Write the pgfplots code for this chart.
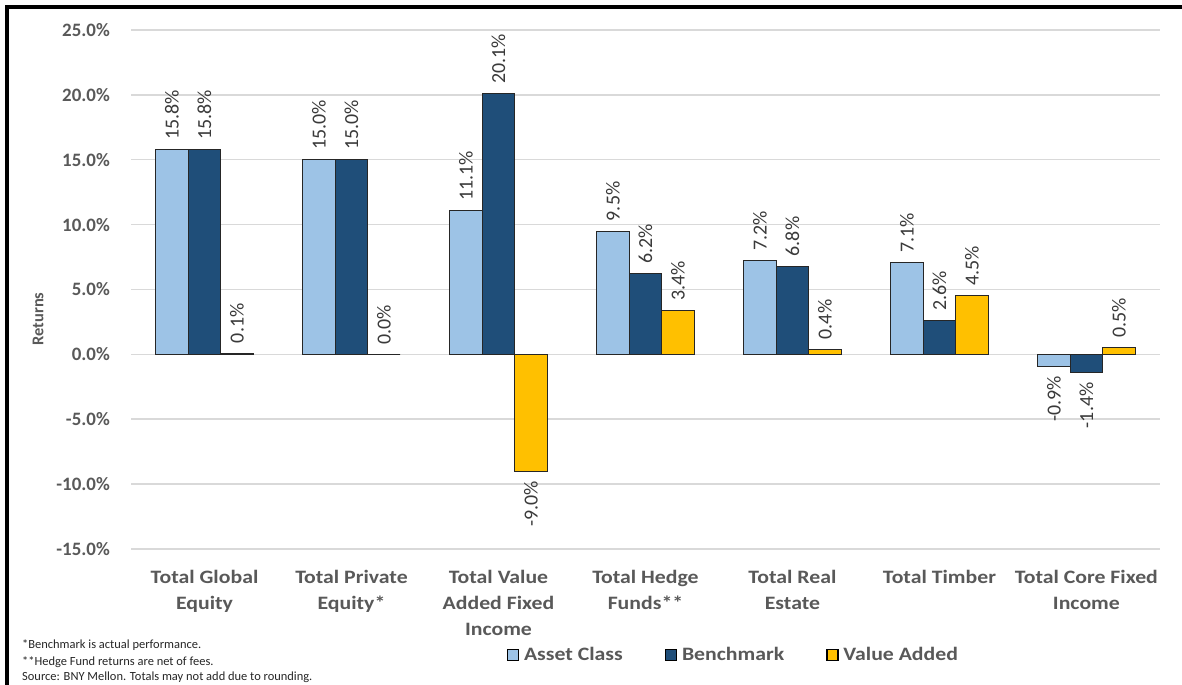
\documentclass[border=0pt]{standalone}
\usepackage{fontspec}
\setmainfont{Carlito}
\newfontfamily\widefont{Carlito}[FakeStretch=1.15]
\usepackage{pgfplots}
\usepackage{pgfplotstable}
\pgfplotsset{compat=1.18}
\definecolor{assetc}{HTML}{9DC3E6}
\definecolor{benchc}{HTML}{1F4E79}
\definecolor{valuec}{HTML}{FFC000}
\definecolor{txtgray}{HTML}{595959}
\definecolor{lblgray}{HTML}{3A3A3A}
\definecolor{gridc}{HTML}{D9D9D9}

\pgfplotstableread{
x asset bench value
0 15.8 15.8 0.1
1 15.0 15.0 0.0
2 11.1 20.1 -9.0
3 9.5 6.2 3.4
4 7.2 6.8 0.4
5 7.1 2.6 4.5
6 -0.9 -1.4 0.5
}\datatable

\newcommand{\barnum}{\pgfmathprintnumber[fixed,fixed zerofill,precision=1,assume math mode=true]{\pgfplotspointmeta}\%}
\newcommand{\barlabel}{%
  \pgfmathfloatparsenumber{\pgfplotspointmeta}%
  \pgfmathfloatifflags{\pgfmathresult}{2}%
    {\makebox[0pt][r]{\barnum\hspace{10bp}}}%
    {\makebox[0pt][l]{\hspace{10bp}\barnum}}}

\begin{document}
\begin{tikzpicture}
\useasboundingbox (0,0) rectangle (1182bp,685bp);
\fill[white] (0,0) rectangle (1182bp,685bp);
\begin{axis}[
  at={(131bp,136bp)}, anchor=south west,
  scale only axis, width=1029bp, height=519bp,
  ybar=0pt, bar width=32.5bp,
  xmin=-0.5, xmax=6.5,
  ymin=-15, ymax=25,
  ytick={-15,-10,...,25},
  xtick={0,...,6},
  xticklabels={{Total Global\\Equity},{Total Private\\Equity*},{Total Value\\Added Fixed\\Income},{Total Hedge\\Funds**},{Total Real\\Estate},{Total Timber},{Total Core Fixed\\Income}},
  /pgf/number format/assume math mode=true,
  yticklabel={\pgfmathprintnumber[fixed,fixed zerofill,precision=1]{\tick}\%},
  yticklabel style={font=\fontsize{19}{22}\selectfont\bfseries, text=txtgray, inner sep=0pt, xshift=-21bp, anchor=east},
  xticklabel style={font=\widefont\fontsize{19}{26}\selectfont\bfseries, text=txtgray, align=center, inner sep=0pt, yshift=-21bp, anchor=north},
  ymajorgrids, grid style={gridc, line width=1.5bp},
  axis line style={draw=none},
  major tick length=0pt,
  ylabel={\fontsize{16.5}{19}\selectfont\bfseries Returns},
  ylabel style={at={(axis description cs:-0.0904,0.443)}, anchor=center, text=txtgray},
  clip=false,
  point meta=y,
  nodes near coords={\barlabel},
  every node near coord/.append style={rotate=90, anchor=center, inner sep=0pt, font=\fontsize{20}{22}\selectfont, text=lblgray},
  legend columns=3,
  legend style={at={(0.5855,-0.204)}, anchor=center, draw=none, fill=none,
    font=\widefont\fontsize{19}{22}\selectfont\bfseries, text=txtgray,
    /tikz/every odd column/.append style={column sep=3bp},
    /tikz/every even column/.append style={column sep=40bp}},
  legend image code/.code={\draw[#1,draw=black,line width=1.2bp] (0bp,-5.5bp) rectangle (11bp,5.5bp);},
]
\addplot[fill=assetc, draw=black!85, line width=1bp] table[x=x,y=asset]{\datatable};
\addplot[fill=benchc, draw=black!85, line width=1bp] table[x=x,y=bench]{\datatable};
\addplot[fill=valuec, draw=black!85, line width=1bp] table[x=x,y=value]{\datatable};
\legend{Asset Class,Benchmark,Value Added}
\end{axis}
\draw[black, line width=4bp] (7bp,0bp) -- (7bp,678bp) -- (1182bp,678bp);
\begin{scope}[every node/.style={anchor=base west, inner sep=0pt, font=\fontsize{12.5}{14}\selectfont, text=black!85}]
\node at (22bp,37bp) {*Benchmark is actual performance.};
\node at (22bp,20bp) {**Hedge Fund returns are net of fees.};
\node at (22bp,5bp) {Source: BNY Mellon. Totals may not add due to rounding.};
\end{scope}
\end{tikzpicture}
\end{document}
